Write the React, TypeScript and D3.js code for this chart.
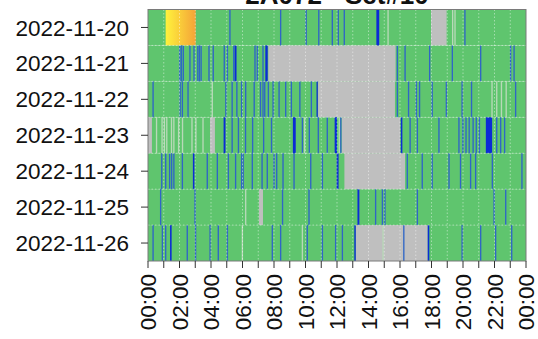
import React from 'react';
import * as d3 from 'd3';

// chart data (hours of the day)
const days = ['2022-11-20', '2022-11-21', '2022-11-22', '2022-11-23', '2022-11-24', '2022-11-25', '2022-11-26'];
const hourTicks = d3.range(0, 25);
const labelTicks = d3.range(0, 25, 2);

// [day index, start hour, end hour] — no data
const gapSpans: [number, number, number][] = [
  [0, 17.97, 18.96],
  [1, 7.64, 15.72],
  [2, 10.8, 15.68],
  [3, 0.0, 0.25], [3, 3.94, 4.25], [3, 12.3, 16.0],
  [4, 12.47, 16.32],
  [5, 7.05, 7.3],
  [6, 13.19, 17.76],
];

// [day index, start hour, end hour] — strong blue episodes
const darkSpans: [number, number, number][] = [
  [0, 14.5, 14.68],
  [1, 5.5, 5.62], [1, 7.45, 7.6],
  [2, 10.7, 10.78],
  [3, 4.8, 4.92], [3, 9.2, 9.38], [3, 11.85, 12.0], [3, 16.05, 16.15], [3, 21.45, 21.85],
  [4, 2.85, 2.95], [4, 11.98, 12.1],
  [5, 13.3, 13.42],
  [6, 1.4, 1.5], [6, 13.1, 13.19], [6, 17.76, 17.86],
];

// [day index, hour] — single blue samples
const thinLines: [number, number][] = [
  ...[5.16, 8.38, 10.0, 10.8, 11.66, 12.04, 12.42, 20.08].map(h => [0, h] as [number, number]),
  ...[1.98, 2.08, 2.2, 2.62, 2.88, 3.12, 3.22, 3.33, 3.83, 4.1, 4.8, 5.0, 5.4, 6.75, 6.9, 7.26, 15.79, 16.28, 17.84, 19.28, 21.08, 22.98, 23.2].map(h => [1, h] as [number, number]),
  ...[0.28, 2.0, 2.14, 2.5, 4.9, 5.3, 5.6, 5.9, 6.16, 6.7, 7.1, 7.26, 7.37, 7.6, 7.9, 8.28, 8.7, 9.06, 9.6, 10.33, 15.79, 16.5, 17.0, 17.2, 18.0, 18.9, 19.9, 20.5, 23.3].map(h => [2, h] as [number, number]),
  ...[5.3, 5.7, 6.15, 6.6, 7.3, 7.8, 9.76, 10.2, 10.77, 11.34, 12.2, 16.6, 17.06, 18.43, 19.7, 19.95, 20.15, 20.35, 20.6, 20.8, 21.0, 22.1, 22.35, 22.6].map(h => [3, h] as [number, number]),
  ...[0.83, 1.08, 1.33, 1.46, 1.6, 2.14, 3.72, 4.36, 5.06, 5.52, 5.9, 6.0, 6.58, 7.2, 7.53, 7.96, 8.13, 8.53, 9.23, 10.29, 11.03, 16.42, 17.37, 18.0, 19.07, 19.8, 20.44, 20.76, 21.82, 23.7].map(h => [4, h] as [number, number]),
  ...[0.76, 2.94, 8.5, 10.18, 14.41, 14.84, 15.0, 17.06, 21.93, 22.67].map(h => [5, h] as [number, number]),
  ...[0.28, 0.87, 1.08, 2.45, 2.98, 3.9, 4.42, 5.0, 7.85, 8.38, 10.07, 11.03, 11.87, 12.3, 16.2, 19.9, 21.08, 22.03, 23.05].map(h => [6, h] as [number, number]),
];

// [day index, hour] — pale samples
const paleLines: [number, number][] = [
  [0, 15.2], [0, 19.3], [0, 19.45],
  [2, 4.04], [2, 21.8], [2, 22.1], [2, 22.4], [2, 22.7],
  [3, 0.5], [3, 0.85], [3, 1.0], [3, 1.15], [3, 1.45], [3, 1.6], [3, 1.9], [3, 2.15], [3, 2.75], [3, 3.0], [3, 3.45], [3, 9.9], [3, 12.1],
  [5, 6.16],
  [6, 5.95], [6, 9.76], [6, 14.88],
];

// [day index, start hour, end hour] — high values (yellow to orange)
const warmSpans: [number, number, number][] = [[0, 1.12, 3.03]];

const sampleHours = 0.085;
const title = '2A072 - Set#10';

const App = () => {
  const W = 538, H = 339;
  const x = d3.scaleLinear().domain([0, 24]).range([148, 526]);
  const y = d3.scaleBand<string>().domain(days).range([9.5, 261]).padding(0);
  const y0 = y.range()[0], y1 = y.range()[1];
  const font = '"Liberation Sans", Arial, Helvetica, sans-serif';

  return (
    <svg width={W} height={H} style={{ position: 'absolute', left: 0, top: 0, background: '#fff' }} fontFamily={font}>
      <defs>
        <linearGradient id="warm" x1="0" x2="1" y1="0" y2="0">
          <stop offset="0%" stopColor="#fff23c" />
          <stop offset="100%" stopColor="#f4a338" />
        </linearGradient>
      </defs>

      {days.map(d => (
        <rect key={d} x={x(0)} y={y(d)} width={x(24) - x(0)} height={y.bandwidth()} fill="#5fc56e" />
      ))}

      {gapSpans.map(([i, a, b], k) => (
        <rect key={'g' + k} x={x(a)} y={y(days[i])} width={x(b) - x(a)} height={y.bandwidth()} fill="#bfbfbf" />
      ))}

      {warmSpans.map(([i, a, b], k) => (
        <rect key={'w' + k} x={x(a)} y={y(days[i])} width={x(b) - x(a)} height={y.bandwidth()} fill="url(#warm)" />
      ))}

      {paleLines.map(([i, h], k) => (
        <rect key={'p' + k} x={x(h)} y={y(days[i])} width={x(h + sampleHours) - x(h)} height={y.bandwidth()} fill="#b8d9b8" />
      ))}

      {thinLines.map(([i, h], k) => (
        <rect key={'t' + k} x={x(h)} y={y(days[i])} width={x(h + sampleHours) - x(h)} height={y.bandwidth()} fill="#2f66c6" />
      ))}

      {darkSpans.map(([i, a, b], k) => (
        <rect key={'d' + k} x={x(a)} y={y(days[i])} width={x(b) - x(a)} height={y.bandwidth()} fill="#0b2bd6" />
      ))}

      {/* dotted grid */}
      {hourTicks.slice(1, -1).map(h => (
        <line key={'vg' + h} x1={x(h)} x2={x(h)} y1={y0} y2={y1} stroke="#fff" strokeOpacity={0.55} strokeWidth={0.8} strokeDasharray="1.5,2" />
      ))}
      {days.slice(1).map(d => (
        <line key={'hg' + d} x1={x(0)} x2={x(24)} y1={y(d)} y2={y(d)} stroke="#fff" strokeOpacity={0.55} strokeWidth={0.8} strokeDasharray="1.5,2" />
      ))}

      <rect x={x(0)} y={y0} width={x(24) - x(0)} height={y1 - y0} fill="none" stroke="#7a7a7a" strokeWidth={1} />

      {/* y axis */}
      {days.map(d => {
        const cy = (y(d) as number) + y.bandwidth() / 2;
        return (
          <g key={'yl' + d}>
            <line x1={x(0) - 7} x2={x(0)} y1={cy} y2={cy} stroke="#333" strokeWidth={1} />
            <text x={x(0) - 19} y={cy} dy="0.36em" textAnchor="end" fontSize={22.5} fill="#111">{d}</text>
          </g>
        );
      })}

      {/* x axis */}
      {hourTicks.map(h => (
        <line key={'xt' + h} x1={x(h)} x2={x(h)} y1={y1} y2={y1 + 7} stroke="#333" strokeWidth={1} />
      ))}
      {labelTicks.map(h => (
        <text key={'xl' + h} transform={`translate(${x(h)},${y1 + 13}) rotate(-90)`} dy="0.36em" textAnchor="end" fontSize={22.5} fill="#111">
          {d3.format('02d')(h % 24) + ':00'}
        </text>
      ))}

      <text x={(x(0) + x(24)) / 2} y={4} textAnchor="middle" fontSize={26} fontWeight="bold" fill="#111">{title}</text>
    </svg>
  );
};

export default App;
